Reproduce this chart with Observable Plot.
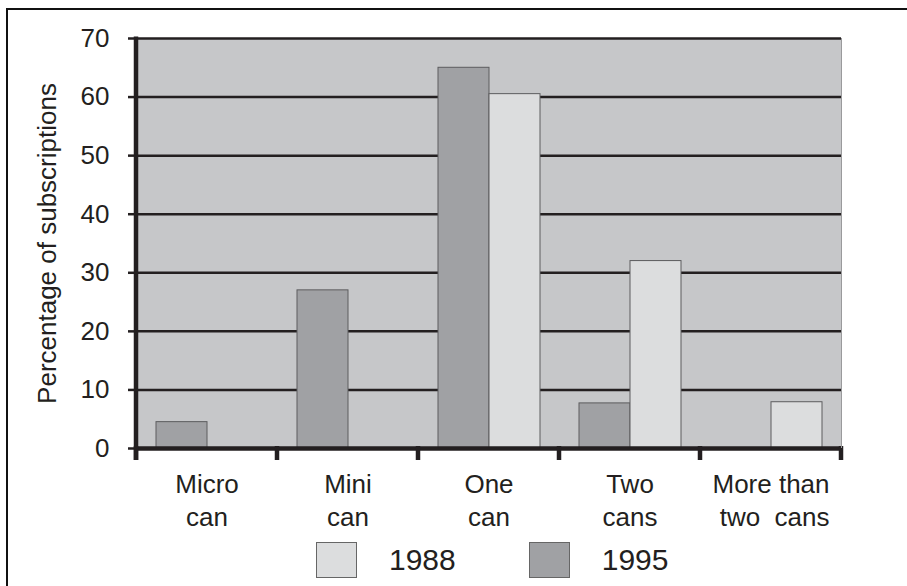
<!DOCTYPE html>
<html>
<head>
<meta charset="utf-8">
<script src="https://cdn.jsdelivr.net/npm/d3@7"></script>
<script src="https://cdn.jsdelivr.net/npm/@observablehq/plot@0.6"></script>
<style>
  html, body { margin: 0; padding: 0; background: #fff; overflow: hidden; }
  body { width: 907px; height: 586px; position: relative; font-family: "Liberation Sans", Arial, Helvetica, sans-serif; color: #231f20; }
  #border { position: absolute; left: 6px; top: 8px; right: 0; bottom: 0; border-top: 2px solid #111; border-left: 2px solid #111; }
  #chart { position: absolute; left: 0; top: 0; }
  #chart svg text { white-space: pre; }
  #legend { position: absolute; left: 316px; top: 542px; display: flex; align-items: center; }
  #legend .item { display: flex; align-items: center; margin-right: 73px; }
  #legend .swatch { width: 39px; height: 34px; border: 1px solid #666; box-sizing: content-box; }
  #legend .label { margin-left: 32px; font-size: 30px; line-height: 36px; }
</style>
</head>
<body>
<div id="border"></div>
<div id="chart"></div>
<div id="legend"></div>
<script>
// Can-size categories along the x axis, with their two-line labels
const categories = ["Micro can", "Mini can", "One can", "Two cans", "More than two cans"];
const categoryLabels = ["Micro\ncan", "Mini\ncan", "One\ncan", "Two\ncans", "More than\n two  cans"];

// Survey years, in the order the bars sit inside each group
const years = ["1995", "1988"];
const legendYears = ["1988", "1995"];

// Percentage of subscriptions per category (null = no bar)
const values1995 = [4.5, 27, 65, 7.7, null];
const values1988 = [null, null, 60.5, 32, 7.9];

// Value axis ticks
const yTicks = [0, 10, 20, 30, 40, 50, 60, 70];

const yearColors = ["#a0a1a4", "#dcddde"];
const ink = "#231f20";

const rows = [];
categories.forEach((category, i) => {
  if (values1995[i] != null) rows.push({category, year: "1995", value: values1995[i]});
  if (values1988[i] != null) rows.push({category, year: "1988", value: values1988[i]});
});

const labelOf = new Map(categories.map((c, i) => [c, categoryLabels[i]]));

const plot = Plot.plot({
  width: 907,
  height: 535,
  marginTop: 38,
  marginLeft: 136,
  marginRight: 66,
  marginBottom: 87,
  style: {fontFamily: "'Liberation Sans', Arial, Helvetica, sans-serif", background: "transparent", color: ink, overflow: "visible"},
  fx: {domain: categories, padding: 0, label: null, axis: null},
  x: {domain: years, paddingInner: 0, paddingOuter: 0.37, axis: null},
  y: {domain: [0, 70], axis: null},
  color: {domain: years, range: yearColors},
  marks: [
    Plot.frame({fill: "#c6c7c9", stroke: "none", shapeRendering: "crispEdges"}),
    Plot.ruleY(yTicks.filter(d => d > 0), {stroke: ink, strokeWidth: 2.5}),
    Plot.barY(rows, {fx: "category", x: "year", y: "value", fill: "year", stroke: "#5c5c5e", strokeWidth: 1}),
    Plot.ruleY([0], {stroke: ink, strokeWidth: 4.5}),
    Plot.axisY({
      ticks: yTicks, tickSize: 8, tickPadding: 19, fontSize: 26, stroke: ink, strokeWidth: 2.5,
      tickFormat: d => String(d),
      label: "Percentage of subscriptions", labelAnchor: "center", labelOffset: 99, labelArrow: "none"
    }),
    Plot.axisFx({
      anchor: "bottom", tickSize: 0, tickPadding: 21, fontSize: 26, lineHeight: 1.27,
      tickFormat: d => labelOf.get(d), label: null
    })
  ]
});

document.getElementById("chart").append(plot);

// Axis lines and the tick marks that separate the category groups
const fx = plot.scale("fx");
const y = plot.scale("y");
const y0 = y.apply(0);
const yTop = y.apply(70);
const bounds = categories.map(c => fx.apply(c)).concat([fx.apply(categories[categories.length - 1]) + fx.bandwidth]);
const g = d3.select(plot).append("g").attr("stroke", ink).attr("stroke-width", 4.5);
g.selectAll("line.sep").data(bounds).join("line")
  .attr("class", "sep")
  .attr("x1", d => d).attr("x2", d => d)
  .attr("y1", y0 - 2).attr("y2", y0 + 12);
g.append("line")
  .attr("x1", bounds[0]).attr("x2", bounds[0])
  .attr("y1", yTop - 1.5).attr("y2", y0 + 12);
d3.select(plot).append("line")
  .attr("x1", bounds[bounds.length - 1] + 0.5).attr("x2", bounds[bounds.length - 1] + 0.5)
  .attr("y1", yTop).attr("y2", y0)
  .attr("stroke", "#9a9a9c").attr("stroke-width", 1);

// Legend below the chart
const color = plot.scale("color");
const legend = d3.select("#legend");
legendYears.forEach(yr => {
  const item = legend.append("div").attr("class", "item");
  item.append("div").attr("class", "swatch").style("background", color.apply(yr));
  item.append("div").attr("class", "label").text(yr);
});
</script>
</body>
</html>
